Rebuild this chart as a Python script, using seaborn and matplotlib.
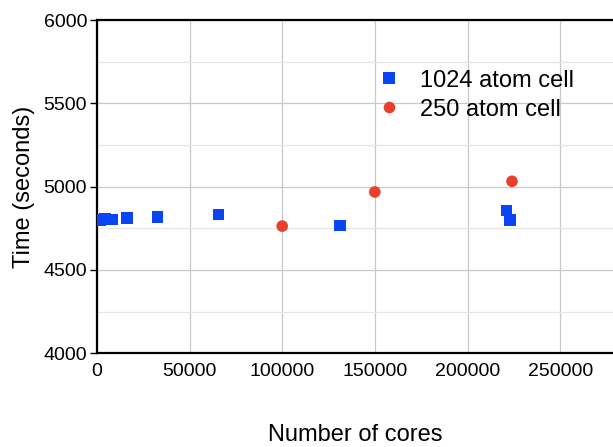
import pandas as pd
import seaborn as sns
import matplotlib.pyplot as plt
from matplotlib.ticker import MultipleLocator

# Datos
cores_1024 = [1800, 4400, 8192, 16384, 32768, 65536, 131072, 221000, 223000]
time_1024 = [4798, 4808, 4802, 4812, 4818, 4832, 4766, 4856, 4798]
cores_250 = [100000, 150000, 224000]
time_250 = [4763, 4968, 5032]
labels = ["1024 atom cell", "250 atom cell"]

df = pd.DataFrame({
    "cores": cores_1024 + cores_250,
    "time": time_1024 + time_250,
    "serie": [labels[0]] * len(cores_1024) + [labels[1]] * len(cores_250),
})

sns.set_style("white")
plt.rcParams["font.family"] = ["Liberation Sans", "DejaVu Sans"]
plt.rcParams["text.color"] = "black"
plt.rcParams["axes.labelcolor"] = "black"
plt.rcParams["xtick.color"] = "black"
plt.rcParams["ytick.color"] = "black"

fig = plt.figure(figsize=(6.13, 4.47), dpi=100)
ax = fig.add_axes([0.158, 0.21, 0.842, 0.745])

sns.scatterplot(data=df, x="cores", y="time", hue="serie", style="serie",
                palette={labels[0]: "#0a45f5", labels[1]: "#e8402a"},
                markers={labels[0]: "s", labels[1]: "o"},
                s=70, linewidth=0, ax=ax, zorder=3)

ax.set_xlim(0, 278500)
ax.set_ylim(4000, 6000)
ax.xaxis.set_major_locator(MultipleLocator(50000))
ax.yaxis.set_major_locator(MultipleLocator(500))
ax.yaxis.set_minor_locator(MultipleLocator(250))

ax.grid(True, which="major", color="#c8c8c8", linewidth=0.9)
ax.grid(True, which="minor", axis="y", color="#e6e6e6", linewidth=0.9)
ax.set_axisbelow(True)

for side in ["left", "bottom", "top"]:
    ax.spines[side].set_color("black")
    ax.spines[side].set_linewidth(1.6)
ax.spines["right"].set_visible(False)

ax.tick_params(axis="both", which="major", labelsize=14, length=5, width=1,
               direction="out", pad=2)
ax.tick_params(axis="y", which="both", right=True, left=True)
ax.tick_params(axis="y", which="minor", left=False, length=4)

ax.set_xlabel("Number of cores", fontsize=17, labelpad=32)
ax.set_ylabel("Time (seconds)", fontsize=17, labelpad=6)

ax.legend(loc="upper left", bbox_to_anchor=(0.48, 0.915), frameon=False,
          fontsize=17, handletextpad=0.3, labelspacing=0.3)

fig.savefig("out.png", dpi=100)
